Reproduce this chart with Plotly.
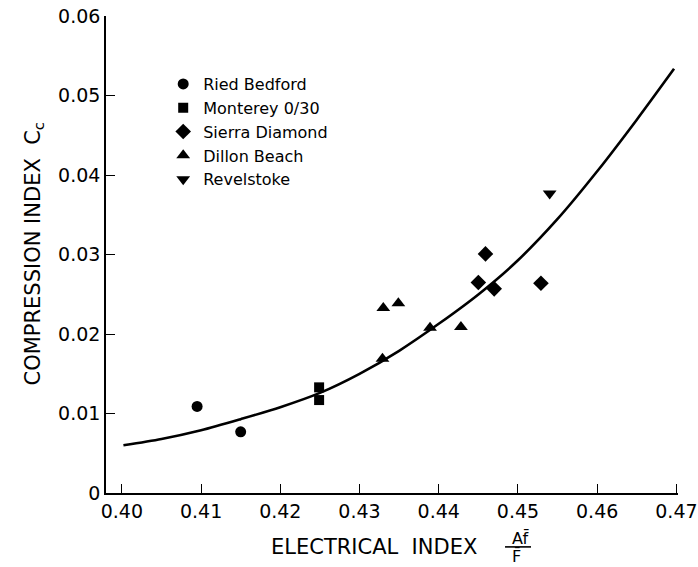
import plotly.graph_objects as go

# Electrical index (A f̄ / F̄) vs. compression index Cc for five sands
ried_x = [0.4095, 0.4150]
ried_y = [0.0109, 0.0077]

monterey_x = [0.4249, 0.4249]
monterey_y = [0.0133, 0.0117]

sierra_x = [0.4459, 0.4450, 0.4470, 0.4529]
sierra_y = [0.0301, 0.0265, 0.0257, 0.0264]

dillon_x = [0.4330, 0.4349, 0.4329, 0.4389, 0.4428]
dillon_y = [0.0233, 0.0239, 0.0169, 0.0208, 0.0209]

revel_x = [0.4540]
revel_y = [0.0377]

# fitted trend curve
curve_x = [0.4002, 0.405, 0.410, 0.415, 0.420, 0.425, 0.430, 0.435,
           0.440, 0.445, 0.450, 0.455, 0.460, 0.465, 0.4697]
curve_y = [0.0060, 0.0068, 0.0079, 0.0093, 0.0108, 0.0126, 0.0150, 0.0179,
           0.0213, 0.0250, 0.0293, 0.0345, 0.0405, 0.0470, 0.0534]

x_ticks = [0.40, 0.41, 0.42, 0.43, 0.44, 0.45, 0.46, 0.47]
x_labels = ["0.40", "0.41", "0.42", "0.43", "0.44", "0.45", "0.46", "0.47"]
y_ticks = [0, 0.01, 0.02, 0.03, 0.04, 0.05, 0.06]
y_labels = ["0", "0.01", "0.02", "0.03", "0.04", "0.05", "0.06"]

FONT = "DejaVu Sans"
INK = "black"

fig = go.Figure()

fig.add_trace(go.Scatter(
    x=curve_x, y=curve_y, mode="lines", showlegend=False,
    line=dict(color=INK, width=2.6, shape="spline", smoothing=0.8),
    hoverinfo="skip",
))

series = [
    ("Ried Bedford", ried_x, ried_y, "circle", 11),
    ("Monterey 0/30", monterey_x, monterey_y, "square", 10),
    ("Sierra Diamond", sierra_x, sierra_y, "diamond", 12),
    ("Dillon Beach", dillon_x, dillon_y, "triangle-up", 12),
    ("Revelstoke", revel_x, revel_y, "triangle-down", 12),
]
for name, xs, ys, sym, sz in series:
    fig.add_trace(go.Scatter(
        x=xs, y=ys, mode="markers", name=name,
        marker=dict(symbol=sym, size=sz, color=INK, line=dict(width=0)),
    ))

axis_style = dict(
    ticks="inside", ticklen=9, tickwidth=1.3, tickcolor=INK,
    showline=True, linecolor=INK, linewidth=1.6,
    showgrid=False, zeroline=False, ticklabeloverflow="allow",
    automargin=False,
    tickfont=dict(family=FONT, size=19, color=INK),
)
fig.update_xaxes(range=[0.398, 0.4702], tickvals=x_ticks, ticktext=x_labels, **axis_style)
fig.update_yaxes(range=[0, 0.06005], tickvals=y_ticks, ticktext=y_labels, **axis_style)

annotations = [
    dict(text="COMPRESSION INDEX  C<sub>c</sub>", textangle=-90,
         xref="paper", yref="paper", x=0, y=0.5, xshift=-73,
         xanchor="center", yanchor="middle", showarrow=False,
         font=dict(family=FONT, size=21, color=INK)),
    dict(text="ELECTRICAL  INDEX", xref="paper", yref="paper",
         x=0.4685, y=0, yshift=-54, xanchor="center", yanchor="middle",
         showarrow=False, font=dict(family=FONT, size=21, color=INK)),
    dict(text="Af\u0304", xref="paper", yref="paper",
         x=0.7238, y=0, yshift=-45, xanchor="center", yanchor="middle",
         showarrow=False, font=dict(family=FONT, size=16, color=INK)),
    dict(text="F\u0304", xref="paper", yref="paper",
         x=0.7185, y=0, yshift=-63, xanchor="center", yanchor="middle",
         showarrow=False, font=dict(family=FONT, size=16, color=INK)),
]

shapes = [
    dict(type="line", xref="paper", yref="paper",
         x0=0.6976, x1=0.743, y0=-0.113, y1=-0.113,
         line=dict(color=INK, width=1.6)),
]

fig.update_layout(
    width=698, height=567,
    margin=dict(l=106, r=20, t=16, b=74),
    paper_bgcolor="white", plot_bgcolor="white",
    annotations=annotations, shapes=shapes,
    showlegend=True,
    legend=dict(
        x=0.1, y=0.893, xanchor="left", yanchor="top",
        bgcolor="rgba(0,0,0,0)", borderwidth=0,
        font=dict(family=FONT, size=16, color=INK),
        itemwidth=30, tracegroupgap=0,
    ),
)

fig.write_html("out.html")
